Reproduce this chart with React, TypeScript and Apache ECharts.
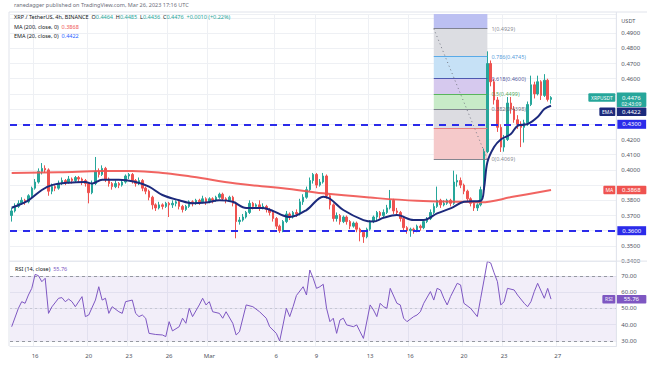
import React, { useEffect, useRef } from "react";
import * as echarts from "echarts";

// ---------- texts ----------
const titleText = "ranedagger published on TradingView.com, Mar 26, 2023 17:16 UTC";
const symbolText = "XRP / TetherUS, 4h, BINANCE";
const ohlcText = { o: "0.4464", h: "0.4485", l: "0.4436", c: "0.4476", chg: "+0.0010 (+0.22%)" };

// ---------- time / categories ----------
const startTimeUtc = Date.UTC(2023, 1, 14, 6);
const candleHours = 6;
const rightPadCandles = 19;
const tickDates = ["2023-02-16", "2023-02-20", "2023-02-23", "2023-02-26", "2023-03-01", "2023-03-06", "2023-03-09", "2023-03-13", "2023-03-16", "2023-03-20", "2023-03-23", "2023-03-27"];
const tickLabels = ["16", "20", "23", "26", "Mar", "6", "9", "13", "16", "20", "23", "27"];

// ---------- candles (open = previous close) ----------
const firstOpen = 0.37;
const closes = [
  0.373, 0.376, 0.378, 0.380, 0.379, 0.383, 0.388, 0.392, 0.399, 0.401,
  0.400, 0.386, 0.389, 0.388, 0.391, 0.393, 0.392, 0.394, 0.393, 0.395,
  0.394, 0.393, 0.391, 0.385, 0.391, 0.399, 0.397, 0.401, 0.394, 0.391,
  0.389, 0.391, 0.390, 0.392, 0.396, 0.397, 0.393, 0.391, 0.393, 0.388,
  0.386, 0.382, 0.377, 0.375, 0.377, 0.376, 0.378, 0.377, 0.378, 0.379,
  0.376, 0.374, 0.376, 0.379, 0.378, 0.380, 0.379, 0.381, 0.379, 0.381,
  0.380, 0.382, 0.384, 0.381, 0.380, 0.382, 0.378, 0.366, 0.367, 0.369,
  0.372, 0.378, 0.376, 0.377, 0.375, 0.376, 0.374, 0.372, 0.368, 0.363,
  0.360, 0.366, 0.371, 0.369, 0.372, 0.371, 0.379, 0.382, 0.387, 0.393,
  0.397, 0.390, 0.392, 0.396, 0.383, 0.377, 0.368, 0.370, 0.366, 0.369,
  0.366, 0.363, 0.365, 0.361, 0.359, 0.356, 0.361, 0.366, 0.369, 0.372,
  0.370, 0.372, 0.375, 0.380, 0.373, 0.372, 0.368, 0.362, 0.360, 0.361,
  0.360, 0.363, 0.362, 0.366, 0.368, 0.372, 0.376, 0.380, 0.377, 0.378,
  0.380, 0.378, 0.392, 0.393, 0.390, 0.386, 0.381, 0.378, 0.375, 0.377,
  0.387, 0.412, 0.470, 0.458, 0.446, 0.428, 0.415, 0.420, 0.444, 0.440,
  0.433, 0.430, 0.428, 0.431, 0.443, 0.456, 0.450, 0.458, 0.449, 0.459,
  0.4464, 0.4476,
];
const lows = [
  0.366, 0.372, 0.375, 0.377, 0.377, 0.378, 0.382, 0.387, 0.391, 0.397,
  0.398, 0.383, 0.384, 0.386, 0.387, 0.390, 0.390, 0.391, 0.391, 0.392,
  0.392, 0.390, 0.389, 0.378, 0.384, 0.390, 0.395, 0.396, 0.392, 0.389,
  0.387, 0.388, 0.388, 0.389, 0.391, 0.394, 0.391, 0.389, 0.390, 0.386,
  0.384, 0.380, 0.374, 0.373, 0.374, 0.374, 0.375, 0.369, 0.375, 0.376,
  0.374, 0.372, 0.373, 0.375, 0.376, 0.377, 0.377, 0.378, 0.377, 0.378,
  0.378, 0.379, 0.381, 0.380, 0.378, 0.379, 0.376, 0.355, 0.364, 0.366,
  0.368, 0.371, 0.374, 0.375, 0.373, 0.374, 0.372, 0.370, 0.366, 0.361,
  0.3585, 0.359, 0.365, 0.367, 0.368, 0.369, 0.370, 0.377, 0.381, 0.386,
  0.391, 0.388, 0.389, 0.391, 0.381, 0.374, 0.366, 0.366, 0.364, 0.365,
  0.364, 0.361, 0.362, 0.359, 0.353, 0.352, 0.355, 0.360, 0.365, 0.367,
  0.368, 0.369, 0.371, 0.374, 0.371, 0.370, 0.366, 0.360, 0.358, 0.356,
  0.358, 0.359, 0.360, 0.361, 0.365, 0.367, 0.371, 0.375, 0.375, 0.376,
  0.377, 0.376, 0.377, 0.389, 0.388, 0.384, 0.379, 0.376, 0.373, 0.373,
  0.376, 0.386, 0.411, 0.455, 0.443, 0.425, 0.4118, 0.412, 0.419, 0.437,
  0.431, 0.427, 0.415, 0.418, 0.429, 0.442, 0.447, 0.449, 0.446, 0.448,
  0.445, 0.4436,
];
const highs = [
  0.375, 0.378, 0.380, 0.382, 0.381, 0.384, 0.389, 0.394, 0.401, 0.4045,
  0.403, 0.401, 0.391, 0.390, 0.393, 0.395, 0.394, 0.396, 0.395, 0.396,
  0.396, 0.395, 0.394, 0.392, 0.393, 0.4085, 0.401, 0.403, 0.402, 0.395,
  0.392, 0.393, 0.392, 0.394, 0.397, 0.398, 0.398, 0.394, 0.395, 0.394,
  0.389, 0.387, 0.383, 0.378, 0.379, 0.378, 0.379, 0.379, 0.380, 0.380,
  0.380, 0.377, 0.377, 0.380, 0.380, 0.381, 0.381, 0.383, 0.382, 0.382,
  0.382, 0.383, 0.385, 0.385, 0.382, 0.383, 0.383, 0.379, 0.369, 0.371,
  0.373, 0.380, 0.379, 0.378, 0.380, 0.378, 0.377, 0.375, 0.373, 0.369,
  0.364, 0.367, 0.373, 0.372, 0.373, 0.374, 0.381, 0.384, 0.389, 0.395,
  0.398, 0.398, 0.394, 0.398, 0.397, 0.384, 0.378, 0.372, 0.371, 0.370,
  0.370, 0.367, 0.366, 0.366, 0.362, 0.360, 0.362, 0.367, 0.370, 0.373,
  0.373, 0.374, 0.377, 0.3868, 0.381, 0.375, 0.373, 0.369, 0.363, 0.362,
  0.362, 0.364, 0.364, 0.367, 0.369, 0.374, 0.378, 0.389, 0.381, 0.380,
  0.381, 0.381, 0.3995, 0.397, 0.395, 0.391, 0.387, 0.382, 0.379, 0.378,
  0.389, 0.414, 0.478, 0.472, 0.460, 0.448, 0.430, 0.423, 0.448, 0.448,
  0.442, 0.436, 0.432, 0.433, 0.445, 0.462, 0.458, 0.462, 0.459, 0.463,
  0.460, 0.4485,
];

// ---------- indicators (candle index, value) ----------
const emaIndex = [0, 5, 9, 12, 17, 22, 24, 27, 32, 37, 41, 45, 50, 54, 58, 62, 66, 70, 75, 78, 81, 83, 88, 93, 95, 99, 105, 108, 111, 115, 120, 123, 127, 131, 135, 140, 141, 142, 144, 146, 149, 151, 154, 157, 159, 161];
const emaValue = [0.3751, 0.380, 0.3868, 0.390, 0.3916, 0.392, 0.391, 0.3935, 0.3935, 0.392, 0.389, 0.3835, 0.380, 0.378, 0.3785, 0.380, 0.379, 0.375, 0.375, 0.373, 0.370, 0.369, 0.3736, 0.3824, 0.381, 0.3736, 0.367, 0.366, 0.3685, 0.3703, 0.367, 0.367, 0.3714, 0.3747, 0.379, 0.3797, 0.388, 0.405, 0.415, 0.420, 0.4236, 0.429, 0.4302, 0.4348, 0.440, 0.4422];
const maIndex = [0, 14, 27, 36, 46, 54, 67, 81, 93, 107, 121, 135, 140, 150, 161];
const maValue = [0.398, 0.3985, 0.3992, 0.3993, 0.3978, 0.3955, 0.391, 0.388, 0.3846, 0.3818, 0.3797, 0.379, 0.3787, 0.3825, 0.3868];
const rsiIndex = [0, 2, 3, 4, 5, 6, 7, 8, 9, 10, 11, 12, 14, 15, 16, 17, 18, 19, 21, 22, 23, 25, 26, 27, 28, 29, 30, 32, 33, 34, 36, 37, 38, 39, 40, 41, 43, 45, 46, 47, 48, 50, 51, 52, 53, 54, 56, 57, 58, 59, 60, 62, 63, 64, 66, 67, 68, 70, 72, 74, 76, 77, 79, 80, 81, 82, 83, 84, 85, 87, 88, 89, 90, 91, 92, 93, 94, 95, 96, 97, 98, 99, 100, 102, 103, 104, 105, 107, 108, 109, 110, 111, 112, 113, 115, 116, 117, 118, 120, 121, 122, 123, 125, 126, 127, 128, 129, 130, 131, 133, 134, 135, 137, 139, 140, 141, 142, 143, 144, 145, 146, 147, 148, 150, 151, 153, 154, 155, 156, 157, 159, 160, 161];
const rsiValue = [38.8, 50.1, 54.2, 53.2, 58.3, 62.4, 71, 70.2, 66.5, 68.6, 47, 51, 56.3, 56.7, 54.2, 55.8, 54.2, 51.1, 57.3, 45, 46, 55.2, 63.4, 55.2, 56.3, 47, 51.1, 48, 47, 54.2, 55.2, 47, 45, 46, 44, 34.7, 34, 33.7, 32.7, 41.9, 36.2, 38.8, 44, 40.9, 50.1, 45, 52.2, 56.3, 52.2, 54.2, 48, 47, 44, 48, 40.9, 33.7, 35.7, 52.2, 51.1, 48, 44, 38.8, 34.7, 30, 39.9, 50.1, 45, 51.1, 58, 63.4, 58.3, 73.7, 68.6, 62.4, 63.4, 64.9, 50.1, 41.9, 44, 34.7, 42.9, 44, 39.9, 38.8, 39.9, 35.7, 31.6, 52.2, 49.1, 45, 53.2, 51.1, 50.1, 62.4, 53.2, 52.2, 44, 41.9, 45, 46, 48, 53.2, 60.4, 55.2, 62.4, 61.4, 56.3, 52.2, 57.3, 65.5, 64.5, 53.2, 50.1, 45, 56.3, 67.5, 79, 78, 72, 66.5, 52.2, 54.2, 62.4, 61.4, 58.3, 53.2, 51.1, 54.2, 60.4, 65.5, 56.3, 62.4, 55.76];

const lastPrice = 0.4476;
const lastCountdown = "02:43:09";
const emaLast = 0.4422;
const maLast = 0.3868;
const rsiLast = 55.76;

// ---------- drawings ----------
const horizontalLevels = [0.43, 0.36];
const fibStartIndex = 126;
const fibEndIndex = 142;
const fibRatios = [0, 0.236, 0.382, 0.5, 0.618, 0.786, 1];
const fibPrices = [0.4069, 0.4272, 0.4398, 0.4499, 0.46, 0.4745, 0.4929];
const fibLineColors = ["#787b86", "#e57373", "#787b86", "#4caf50", "#3f4aa8", "#4aa3e8", "#787b86"];
const fibLabelColors = ["#787b86", "#e57373", "#5d606b", "#43a047", "#3a3f8f", "#3d8fd6", "#787b86"];
const fibBandColors = ["#f5c9ca", "#dcdce1", "#c8ebc8", "#d6c9ee", "#c6e1f6", "#dcdde2", "#bcc0f2"];

// ---------- layout ----------
const GRID_LEFT = 10;
const BAND = 3.35;
const PRICE_MIN = 0.34;
const PRICE_MAX = 0.50257;
const RSI_MIN = 26.92;
const RSI_MAX = 79.17;
const FONT = '"Noto Sans", "DejaVu Sans", sans-serif';

export default function App() {
  const ref = useRef<HTMLDivElement>(null);

  useEffect(() => {
    const el = ref.current;
    if (!el) return;
    const chart = echarts.init(el, null, { renderer: "svg" });

    const total = closes.length + rightPadCandles;
    const categories = Array.from({ length: total }, (_, i) =>
      new Date(startTimeUtc + i * candleHours * 3600000).toISOString().slice(0, 16)
    );
    const tickMap = new Map<number, string>();
    tickDates.forEach((d, k) => {
      const idx = categories.indexOf(d + "T00:00");
      if (idx >= 0) tickMap.set(idx, tickLabels[k]);
    });
    const isTick = (idx: number) => tickMap.has(idx);

    const candleData = closes.map((c, i) => [i === 0 ? firstOpen : closes[i - 1], c, lows[i], highs[i]]);
    const emaData = emaIndex.map((x, k) => [x, emaValue[k]]);
    const maData = maIndex.map((x, k) => [x, maValue[k]]);
    const rsiData = rsiIndex.map((x, k) => [x, rsiValue[k]]);

    const gridWidth = BAND * total;

    const fibAreas: any[] = fibPrices.map((p, k) => {
      const top = k + 1 < fibPrices.length ? fibPrices[k + 1] : PRICE_MAX;
      return [
        { coord: [fibStartIndex, p], itemStyle: { color: fibBandColors[k] } },
        { coord: [fibEndIndex, top] },
      ];
    });
    const fibLines: any[] = fibPrices.map((p, k) => [
      {
        coord: [fibStartIndex, p],
        lineStyle: { color: fibLineColors[k], width: 1, type: "solid", opacity: 0.9 },
        label: {
          show: fibRatios[k] !== 0.236,
          position: "end",
          distance: 4,
          formatter: `${fibRatios[k]}(${p.toFixed(4)})`,
          color: fibLabelColors[k],
          fontSize: 5.5,
          fontFamily: FONT,
        },
      },
      { coord: [fibEndIndex, p] },
    ]);
    fibLines.push([
      {
        coord: [fibStartIndex, fibPrices[fibPrices.length - 1]],
        lineStyle: { color: "#787b86", width: 1, type: [1, 3] },
        label: { show: false },
      },
      { coord: [fibEndIndex, fibPrices[0]] },
    ]);

    const basePriceFmt = (v: number) => {
      const r = Math.round(v * 100);
      if (Math.abs(v * 100 - r) > 1e-6) return "";
      if (v > 0.495) return "";
      return v.toFixed(4);
    };
    const baseRsiFmt = (v: number) => {
      const r = Math.round(v);
      if (Math.abs(v - r) > 1e-6) return "";
      if (r < 30 || r > 70) return "";
      return v.toFixed(2);
    };

    const option: any = {
      animation: false,
      backgroundColor: "#ffffff",
      textStyle: { fontFamily: FONT },
      grid: [
        { left: GRID_LEFT, top: 14, width: gridWidth, height: 247.1 },
        { left: GRID_LEFT, top: 261.1, width: gridWidth, height: 84.9 },
      ],
      xAxis: [
        {
          type: "category",
          gridIndex: 0,
          data: categories,
          boundaryGap: true,
          axisLine: { show: false },
          axisTick: { show: false },
          axisLabel: { show: false },
          splitLine: { show: true, interval: (i: number) => isTick(i), lineStyle: { color: "#eef0f4", width: 1 } },
        },
        {
          type: "category",
          gridIndex: 1,
          data: categories,
          boundaryGap: true,
          axisLine: { show: true, lineStyle: { color: "#e0e3eb" } },
          axisTick: { show: false },
          axisLabel: {
            show: true,
            interval: (i: number) => isTick(i),
            formatter: (_v: string, i: number) => tickMap.get(i) || "",
            fontSize: 6,
            color: "#50535e",
            margin: 7,
            fontFamily: FONT,
          },
          splitLine: { show: true, interval: (i: number) => isTick(i), lineStyle: { color: "#eef0f4", width: 1 } },
        },
      ],
      yAxis: [
        {
          type: "value",
          gridIndex: 0,
          position: "right",
          min: PRICE_MIN,
          max: PRICE_MAX,
          splitNumber: 16,
          axisLine: { show: false },
          axisTick: { show: false },
          axisLabel: { formatter: basePriceFmt, fontSize: 6, color: "#50535e", margin: 5, fontFamily: FONT },
          splitLine: { show: true, lineStyle: { color: "#eef0f4", width: 1 } },
        },
        {
          type: "value",
          gridIndex: 1,
          position: "right",
          min: RSI_MIN,
          max: RSI_MAX,
          splitNumber: 5,
          axisLine: { show: false },
          axisTick: { show: false },
          axisLabel: { formatter: baseRsiFmt, fontSize: 6, color: "#50535e", margin: 5, fontFamily: FONT },
          splitLine: { show: true, lineStyle: { color: "#eef0f4", width: 1 } },
        },
      ],
      series: [
        {
          name: "fib",
          type: "line",
          xAxisIndex: 0,
          yAxisIndex: 0,
          data: [],
          z: 1,
          silent: true,
          markArea: { silent: true, data: fibAreas, itemStyle: { opacity: 1 } },
          markLine: { silent: true, symbol: "none", data: fibLines },
        },
        {
          name: "XRPUSDT",
          type: "candlestick",
          xAxisIndex: 0,
          yAxisIndex: 0,
          data: candleData,
          barWidth: 2,
          z: 3,
          itemStyle: {
            color: "#26a69a",
            color0: "#ef5350",
            borderColor: "#26a69a",
            borderColor0: "#ef5350",
            borderWidth: 1,
          },
        },
        {
          name: "MA200",
          type: "line",
          xAxisIndex: 0,
          yAxisIndex: 0,
          data: maData,
          smooth: 0.4,
          showSymbol: false,
          z: 4,
          lineStyle: { color: "#ef5350", width: 2, opacity: 0.9 },
        },
        {
          name: "EMA20",
          type: "line",
          xAxisIndex: 0,
          yAxisIndex: 0,
          data: emaData,
          smooth: 0.35,
          showSymbol: false,
          z: 5,
          lineStyle: { color: "#1c2a7c", width: 2 },
        },
        {
          name: "levels",
          type: "line",
          xAxisIndex: 0,
          yAxisIndex: 0,
          data: [],
          z: 6,
          markLine: {
            silent: true,
            symbol: "none",
            data: horizontalLevels.map((v) => ({
              yAxis: v,
              lineStyle: { color: "#2b2bea", width: 2, type: [7, 6] },
              label: {
                show: true,
                position: "end",
                distance: 1,
                formatter: v.toFixed(4),
                backgroundColor: "#2b2bea",
                color: "#ffffff",
                fontSize: 6,
                fontFamily: FONT,
                padding: [2, 5, 1, 5],
              },
            })),
          },
        },
        {
          name: "RSI",
          type: "line",
          xAxisIndex: 1,
          yAxisIndex: 1,
          data: rsiData,
          showSymbol: false,
          z: 5,
          lineStyle: { color: "#7e57c2", width: 1 },
          markArea: {
            silent: true,
            itemStyle: { color: "rgba(126,87,194,0.1)" },
            data: [[{ yAxis: 70 }, { yAxis: 30 }]],
          },
          markLine: {
            silent: true,
            symbol: "none",
            label: { show: false },
            data: [
              { yAxis: 70, lineStyle: { color: "#9598a1", type: [3, 3], width: 1 } },
              { yAxis: 50, lineStyle: { color: "#b2b5be", type: [2, 3], width: 1, opacity: 0.6 } },
              { yAxis: 30, lineStyle: { color: "#9598a1", type: [3, 3], width: 1 } },
            ],
          },
        },
      ],
    };

    chart.setOption(option);

    const yP = (v: number) => chart.convertToPixel({ yAxisIndex: 0 } as any, v) as number;
    const yR = (v: number) => chart.convertToPixel({ yAxisIndex: 1 } as any, v) as number;
    const paneRight = GRID_LEFT + gridWidth;

    const BOX_H = 8.5;
    const box = (x: number, yc: number, w: number, h: number, fill: string, text: string, size = 5.5) => ({
      type: "group",
      z: 100,
      children: [
        { type: "rect", shape: { x, y: yc - h / 2, width: w, height: h, r: 1 }, style: { fill } },
        {
          type: "text",
          style: {
            x: x + w / 2,
            y: yc,
            text,
            fill: "#ffffff",
            fontSize: size,
            fontFamily: FONT,
            textAlign: "center",
            textVerticalAlign: "middle",
          },
        },
      ],
    });

    const yPrice = yP(lastPrice);
    const priceTop = yPrice - 5;
    const priceBottom = yPrice + 9.5;
    const priceBox = {
      type: "group",
      z: 100,
      children: [
        { type: "rect", shape: { x: paneRight, y: priceTop, width: 30, height: priceBottom - priceTop, r: 1 }, style: { fill: "#26a69a" } },
        { type: "text", style: { x: paneRight + 15, y: yPrice, text: lastPrice.toFixed(4), fill: "#fff", fontSize: 6, fontFamily: FONT, textAlign: "center", textVerticalAlign: "middle" } },
        { type: "text", style: { x: paneRight + 15, y: yPrice + 6, text: lastCountdown, fill: "#fff", fontSize: 5, fontFamily: FONT, textAlign: "center", textVerticalAlign: "middle" } },
      ],
    };
    const yEma = Math.max(yP(emaLast), priceBottom + BOX_H / 2 + 0.5);
    const yMa = yP(maLast);
    const yRsi = yR(rsiLast);

    // price-scale areas covered by the value boxes: hide axis labels under them
    const priceBlocked: [number, number][] = [
      [priceTop, priceBottom],
      [yEma - BOX_H / 2, yEma + BOX_H / 2],
      [yMa - BOX_H / 2, yMa + BOX_H / 2],
      ...horizontalLevels.map((v) => [yP(v) - BOX_H / 2, yP(v) + BOX_H / 2] as [number, number]),
    ];
    const rsiBlocked: [number, number][] = [[yRsi - BOX_H / 2, yRsi + BOX_H / 2]];
    const LABEL_HALF = 2.5;
    const blocked = (y: number, ranges: [number, number][]) =>
      ranges.some(([a, b]) => y + LABEL_HALF > a && y - LABEL_HALF < b);

    const text = (x: number, y: number, t: string, fill: string, size = 5.5, rich?: any) => ({
      type: "text",
      z: 100,
      style: { x, y, text: t, fill, fontSize: size, fontFamily: FONT, textVerticalAlign: "middle", rich },
    });

    const richStyles = {
      d: { fill: "#131722", fontSize: 5.5, fontFamily: FONT },
      g: { fill: "#26a69a", fontSize: 5.5, fontFamily: FONT },
      r: { fill: "#ef5350", fontSize: 5.5, fontFamily: FONT },
      b: { fill: "#2962ff", fontSize: 5.5, fontFamily: FONT },
      p: { fill: "#7e57c2", fontSize: 5.5, fontFamily: FONT },
    };

    const lineEl = (x1: number, y1: number, x2: number, y2: number, color = "#e0e3eb") => ({
      type: "line",
      z: 90,
      shape: { x1, y1, x2, y2 },
      style: { stroke: color, lineWidth: 1 },
    });

    chart.setOption({
      yAxis: [
        { axisLabel: { formatter: (v: number) => (blocked(yP(v), priceBlocked) ? "" : basePriceFmt(v)) } },
        { axisLabel: { formatter: (v: number) => (blocked(yR(v), rsiBlocked) ? "" : baseRsiFmt(v)) } },
      ],
      graphic: [
        lineEl(9, 12, 647, 12),
        lineEl(9, 12, 9, 346),
        lineEl(paneRight, 12, paneRight, 346),
        lineEl(9, 261.1, 647, 261.1),
        text(14, 5, titleText, "#6a6d78", 5.5),
        text(14, 17, `{d|${symbolText}}  {d|O}{g|${ohlcText.o}}  {d|H}{g|${ohlcText.h}}  {d|L}{g|${ohlcText.l}}  {d|C}{g|${ohlcText.c}}  {g|${ohlcText.chg}}`, "#131722", 5.5, richStyles),
        text(14, 26.5, `{d|MA (200, close, 0)}  {r|${maLast.toFixed(4)}}`, "#131722", 5.5, richStyles),
        text(14, 36, `{d|EMA (20, close, 0)}  {b|${emaLast.toFixed(4)}}`, "#131722", 5.5, richStyles),
        text(15, 269, `{d|RSI (14, close)}  {p|${rsiLast.toFixed(2)}}`, "#131722", 5.5, richStyles),
        text(paneRight + 5, 21, "USDT", "#50535e", 5.5),
        box(paneRight - 28, yPrice, 27, BOX_H, "#26a69a", "XRPUSDT", 5),
        priceBox,
        box(paneRight - 17, yEma, 16, BOX_H, "#1c2a7c", "EMA", 5),
        box(paneRight, yEma, 30, BOX_H, "#1c2a7c", emaLast.toFixed(4), 6),
        box(paneRight - 13, yMa, 12, BOX_H, "#ef5350", "MA", 5),
        box(paneRight, yMa, 30, BOX_H, "#ef5350", maLast.toFixed(4), 6),
        box(paneRight - 14, yRsi, 13, BOX_H, "#7e57c2", "RSI", 5),
        box(paneRight, yRsi, 30, BOX_H, "#7e57c2", rsiLast.toFixed(2), 6),
      ],
    });

    return () => chart.dispose();
  }, []);

  return <div ref={ref} style={{ position: "fixed", left: 0, top: 0, width: 647, height: 366 }} />;
}
